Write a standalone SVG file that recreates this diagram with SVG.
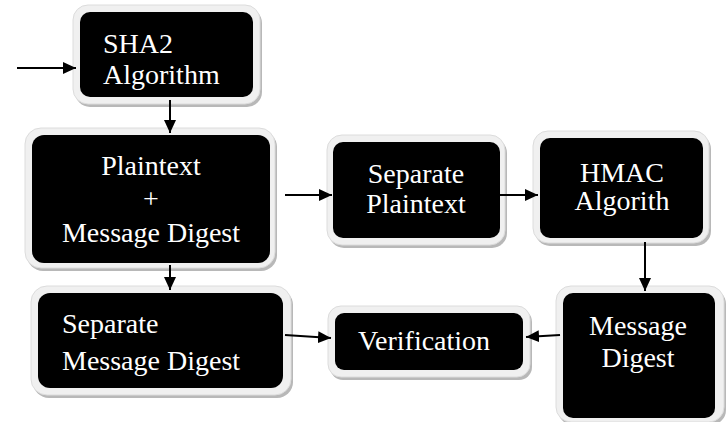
<svg xmlns="http://www.w3.org/2000/svg" width="727" height="422" viewBox="0 0 727 422">
<defs>
<marker id="ah" markerWidth="13" markerHeight="12" refX="13" refY="6" orient="auto" markerUnits="userSpaceOnUse" viewBox="0 0 13 12">
<path d="M0,0 L13,6 L0,12 Z" fill="#000"/>
</marker>
</defs>
<style>
.sh{fill:#b8b8b8}
.fr{fill:#f0f0f0;stroke:#dcdcdc;stroke-width:1}
.bk{fill:#000}
.t{font-size:28px;fill:#fff}
.c{stroke:#000;stroke-width:2;fill:none;marker-end:url(#ah)}
</style>
<rect width="727" height="422" fill="#fff"/>
<g font-family="'Liberation Serif', 'DejaVu Serif', serif">
<g id="sha2">
<rect class="sh" x="75" y="8" width="187" height="99" rx="15"/>
<rect class="fr" x="73" y="5" width="187" height="99" rx="15"/>
<rect class="bk" x="80" y="12" width="173" height="85" rx="10"/>
<text class="t" x="103" y="53">SHA2</text>
<text class="t" x="103" y="84">Algorithm</text>
</g>
<g id="plaintext">
<rect class="sh" x="27" y="131" width="250" height="140" rx="16"/>
<rect class="fr" x="25" y="128" width="250" height="140" rx="16"/>
<rect class="bk" x="32" y="135" width="238" height="128" rx="12"/>
<text class="t" x="151" y="175" text-anchor="middle">Plaintext</text>
<text class="t" x="151" y="208" text-anchor="middle">+</text>
<text class="t" x="151" y="242" text-anchor="middle">Message Digest</text>
</g>
<g id="sepplain">
<rect class="sh" x="329" y="138" width="178" height="110" rx="15"/>
<rect class="fr" x="327" y="135" width="178" height="110" rx="15"/>
<rect class="bk" x="333" y="142" width="167" height="96" rx="10"/>
<text class="t" x="416" y="183" text-anchor="middle">Separate</text>
<text class="t" x="416" y="213" text-anchor="middle">Plaintext</text>
</g>
<g id="hmac">
<rect class="sh" x="535" y="134" width="176" height="112" rx="15"/>
<rect class="fr" x="533" y="131" width="176" height="112" rx="15"/>
<rect class="bk" x="540" y="138" width="163" height="100" rx="10"/>
<text class="t" x="622" y="182" text-anchor="middle">HMAC</text>
<text class="t" x="622" y="210" text-anchor="middle">Algorith</text>
</g>
<g id="msgdigest">
<rect class="sh" x="558" y="289" width="168" height="136" rx="15"/>
<rect class="fr" x="556" y="286" width="168" height="136" rx="15"/>
<rect class="bk" x="563" y="293" width="152" height="125" rx="10"/>
<text class="t" x="638" y="335" text-anchor="middle">Message</text>
<text class="t" x="638" y="367" text-anchor="middle">Digest</text>
</g>
<g id="verification">
<rect class="sh" x="330" y="309" width="202" height="71" rx="13"/>
<rect class="fr" x="328" y="306" width="202" height="71" rx="13"/>
<rect class="bk" x="335" y="313" width="188" height="57" rx="9"/>
<text class="t" x="424" y="350" text-anchor="middle">Verification</text>
</g>
<g id="sepmd">
<rect class="sh" x="33" y="289" width="260" height="109" rx="16"/>
<rect class="fr" x="31" y="286" width="260" height="109" rx="16"/>
<rect class="bk" x="38" y="293" width="245" height="95" rx="12"/>
<text class="t" x="62" y="333">Separate</text>
<text class="t" x="62" y="370">Message Digest</text>
</g>
</g>
<g id="connectors">
<line class="c" x1="17" y1="68" x2="76" y2="68"/>
<line class="c" x1="170" y1="100" x2="170" y2="133"/>
<line class="c" x1="285" y1="195" x2="332" y2="195"/>
<line class="c" x1="493" y1="195" x2="538" y2="195"/>
<line class="c" x1="645" y1="242" x2="645" y2="291"/>
<line class="c" x1="560" y1="335" x2="526" y2="337"/>
<line class="c" x1="285" y1="335" x2="331" y2="338"/>
<line class="c" x1="170" y1="265" x2="170" y2="290"/>
</g>
</svg>
